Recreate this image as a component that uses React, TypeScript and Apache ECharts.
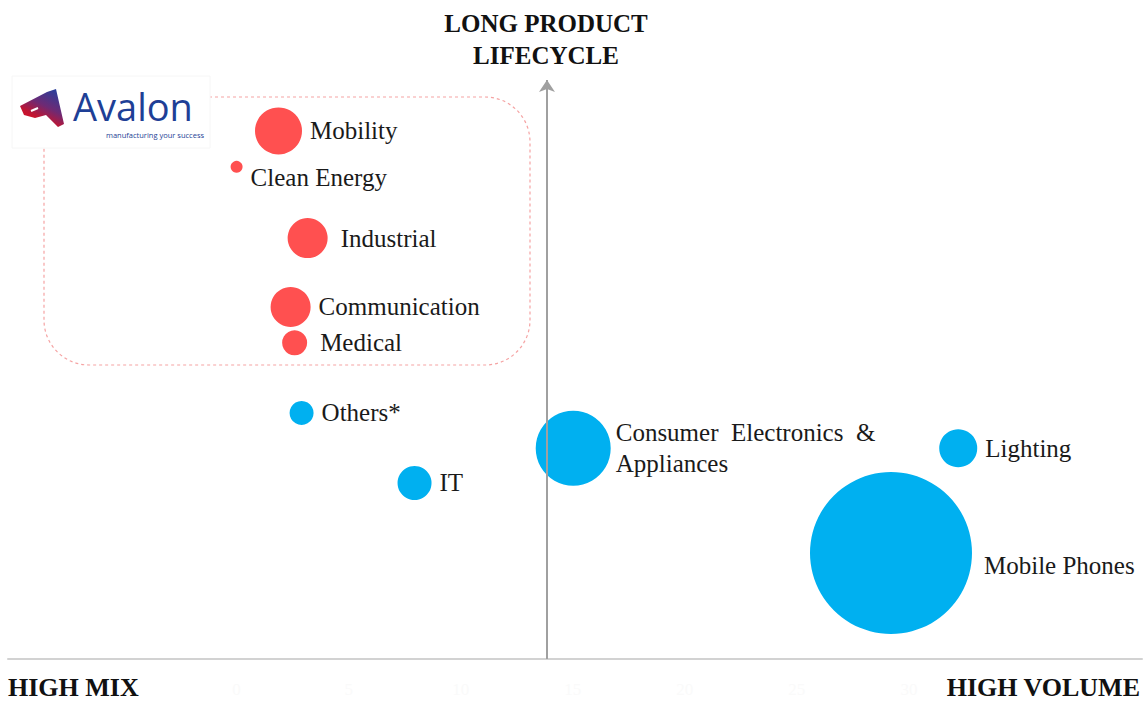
import React, { useEffect, useRef } from "react";
import * as echarts from "echarts";

// Data (x = mix→volume position, y = lifecycle position, s = bubble diameter)
const redNames = ["Mobility", "Clean Energy", "Industrial", "Communication", "Medical"];
const redX = [1.87, 0.0, 3.17, 2.41, 2.59];
const redY = [91.2, 85.0, 72.7, 60.8, 54.6];
const redS = [47, 12, 40, 40, 25];

const blueNames = ["Others*", "IT", "Consumer  Electronics  &\nAppliances", "Lighting", "Mobile Phones"];
const blueX = [2.9, 7.94, 15.02, 32.2, 29.2];
const blueY = [42.5, 30.4, 36.4, 36.4, 18.3];
const blueS = [24, 34, 75, 38, 162];

const xTickLabels = [0, 5, 10, 15, 20, 25, 30];
const dividerX = 13.85;

const SERIF = "'Liberation Serif', 'Times New Roman', serif";

export default function App() {
  const ref = useRef<HTMLDivElement>(null);

  useEffect(() => {
    document.body.style.margin = "0";
    const chart = echarts.init(ref.current!, null, { renderer: "svg" });

    const labelBase = {
      show: true,
      position: "right",
      distance: 8,
      formatter: "{b}",
      color: "#1a1a1a",
      fontFamily: SERIF,
      fontSize: 25,
      lineHeight: 31,
    };

    const redData = redNames.map((n, i) => {
      const item: any = { name: n, value: [redX[i], redY[i], redS[i]] };
      if (n === "Clean Energy") item.label = { offset: [0, 11], distance: 8 };
      if (n === "Industrial" || n === "Medical") item.label = { distance: 13 };
      return item;
    });
    const blueData = blueNames.map((n, i) => {
      const item: any = { name: n, value: [blueX[i], blueY[i], blueS[i]] };
      if (n === "Mobile Phones") item.label = { distance: 12, offset: [0, 12] };
      if (n.startsWith("Consumer")) item.label = { distance: 5 };
      return item;
    });

    chart.setOption({
      animation: false,
      backgroundColor: "#ffffff",
      grid: { left: 8, right: 4, top: 80, bottom: 42 },
      xAxis: {
        type: "value",
        min: -10.2,
        max: 40.4,
        splitLine: { show: false },
        axisTick: { show: false },
        axisLine: { show: true, onZero: false, lineStyle: { color: "#d2d2d2", width: 2 } },
        axisLabel: {
          customValues: xTickLabels,
          color: "#fafafa",
          fontFamily: SERIF,
          fontSize: 17,
          margin: 22,
        },
      },
      yAxis: {
        type: "value",
        min: 0,
        max: 100,
        show: false,
      },
      series: [
        {
          type: "scatter",
          name: "red",
          data: redData,
          symbolSize: (v: number[]) => v[2],
          itemStyle: { color: "#FF5050", opacity: 1 },
          label: labelBase,
          z: 3,
        },
        {
          type: "scatter",
          name: "blue",
          data: blueData,
          symbolSize: (v: number[]) => v[2],
          itemStyle: { color: "#00B0F0", opacity: 1 },
          label: labelBase,
          z: 3,
          markLine: {
            silent: true,
            symbol: ["none", "arrow"],
            symbolSize: 12,
            label: { show: false },
            lineStyle: { color: "#a0a0a0", width: 2, type: "solid" },
            z: 5,
            data: [[{ coord: [dividerX, 0] }, { coord: [dividerX, 100] }]],
          },
        },
      ],
      graphic: [
        {
          type: "rect",
          z: 0,
          shape: { x: 44, y: 97, width: 486, height: 268, r: 45 },
          style: { fill: "none", stroke: "#F5A3A3", lineWidth: 1.2, lineDash: [3, 3] },
        },
        {
          type: "rect",
          z: 1,
          shape: { x: 12, y: 76, width: 198, height: 72 },
          style: { fill: "#ffffff", stroke: "#f6f6f6", lineWidth: 1 },
        },
        {
          type: "polygon",
          z: 2,
          shape: {
            points: [
              [20, 106],
              [47, 92],
              [56, 89],
              [64, 124],
              [58, 127],
              [46, 115],
              [35, 118],
              [24, 115],
            ],
          },
          style: {
            fill: new echarts.graphic.LinearGradient(0.85, 0, 0.25, 1, [
              { offset: 0, color: "#24409E" },
              { offset: 0.45, color: "#6E2A74" },
              { offset: 0.75, color: "#C4142F" },
              { offset: 1, color: "#D8102B" },
            ]),
          },
        },
        {
          type: "line",
          z: 3,
          shape: { x1: 31, y1: 111, x2: 38, y2: 108 },
          style: { stroke: "#ffffff", lineWidth: 2 },
        },
        {
          type: "text",
          z: 2,
          x: 73,
          y: 106,
          style: {
            text: "Avalon",
            fill: "#1E3F96",
            fontFamily: "'Open Sans', 'Noto Sans', sans-serif",
            fontSize: 38,
            lineHeight: 34,
            verticalAlign: "middle",
            textAlign: "left",
          },
        },
        {
          type: "text",
          z: 2,
          x: 106,
          y: 135,
          style: {
            text: "manufacturing your success",
            fill: "#1E3F96",
            fontFamily: "'Open Sans', 'Noto Sans', sans-serif",
            fontSize: 7.5,
            lineHeight: 8,
            verticalAlign: "middle",
            textAlign: "left",
          },
        },
        {
          type: "text",
          x: 546,
          y: 23,
          style: {
            text: "LONG PRODUCT",
            fill: "#111111",
            fontFamily: SERIF,
            fontSize: 25,
            fontWeight: "bold",
            verticalAlign: "middle",
            textAlign: "center",
          },
        },
        {
          type: "text",
          x: 546,
          y: 55,
          style: {
            text: "LIFECYCLE",
            fill: "#111111",
            fontFamily: SERIF,
            fontSize: 25,
            fontWeight: "bold",
            verticalAlign: "middle",
            textAlign: "center",
          },
        },
        {
          type: "text",
          x: 8,
          y: 687,
          style: {
            text: "HIGH MIX",
            fill: "#111111",
            fontFamily: SERIF,
            fontSize: 26,
            lineHeight: 26,
            fontWeight: "bold",
            verticalAlign: "middle",
            textAlign: "left",
          },
        },
        {
          type: "text",
          x: 1140,
          y: 687,
          style: {
            text: "HIGH VOLUME",
            fill: "#111111",
            fontFamily: SERIF,
            fontSize: 26,
            lineHeight: 26,
            fontWeight: "bold",
            verticalAlign: "middle",
            textAlign: "right",
          },
        },
      ],
    });

    return () => chart.dispose();
  }, []);

  return <div ref={ref} style={{ width: 1146, height: 701 }} />;
}
